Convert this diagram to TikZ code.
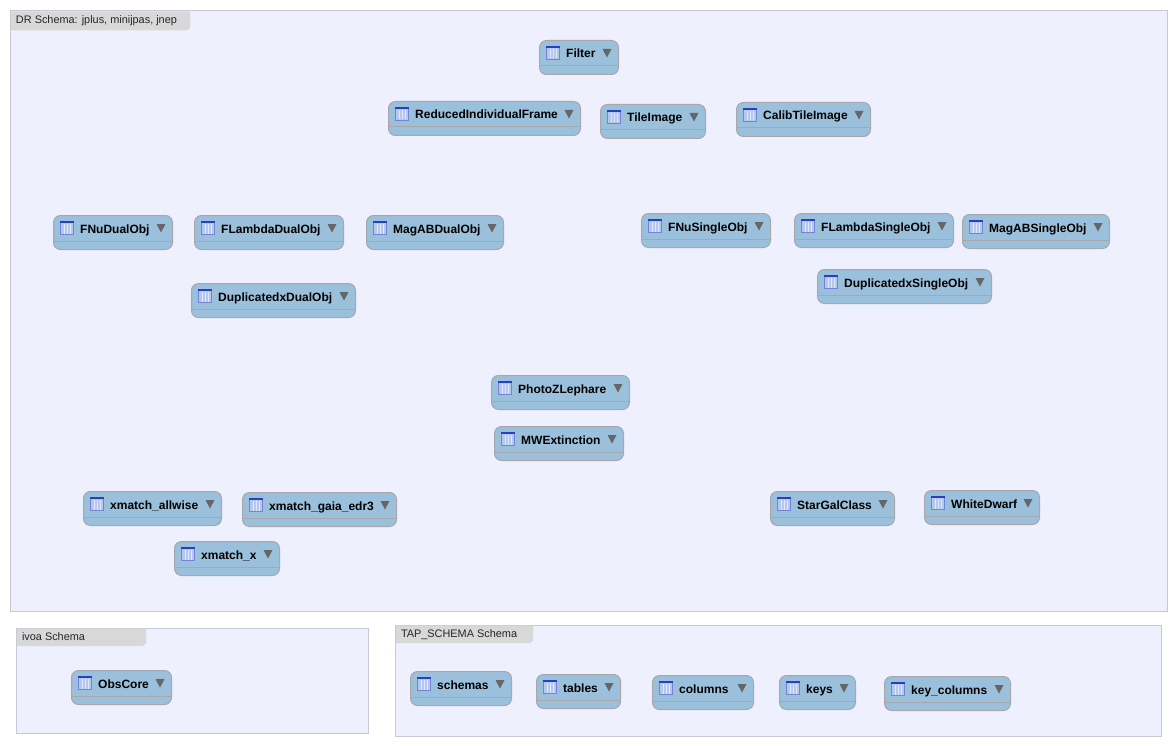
\documentclass[tikz,border=0pt]{standalone}
\usepackage{fontspec}
\setmainfont{Liberation Sans}
\usetikzlibrary{positioning, calc}

\definecolor{panelfill}{HTML}{EEF0FD}
\definecolor{paneldraw}{HTML}{C9C9D6}
\definecolor{tabfill}{HTML}{D8D8D8}
\definecolor{boxfill}{HTML}{9BC0DB}
\definecolor{boxdraw}{HTML}{A8A8AC}
\definecolor{iconblue}{HTML}{2A3FC0}
\definecolor{iconfill}{HTML}{B4C8EE}

\tikzset{
  schemapanel/.style = {draw=paneldraw, fill=panelfill, line width=1pt},
  schematab/.style = {fill=tabfill},
  schemalabel/.style = {anchor=base west, inner sep=0pt, font=\fontsize{10.9}{12}\selectfont, text=black!85},
  tablebox/.style = {draw=boxdraw, fill=boxfill, line width=1pt, rounded corners=7pt, anchor=north west, inner sep=0pt, minimum height=34pt},
  tablelabel/.style = {anchor=base west, inner sep=0pt, font=\fontsize{12}{13}\selectfont\bfseries},
  tablerule/.style = {draw=boxdraw, line width=1pt},
  tableicon/.style = {draw=iconblue!65!white, fill=iconfill, line width=1pt},
  tablemark/.style = {fill=black!60, draw=none},
}

\begin{document}
\begin{tikzpicture}[x=1pt, y=-1pt]
	\useasboundingbox (0,0) rectangle (1174,746);
	% schema panels with their tabs
	\foreach \pname/\ptext/\xa/\ya/\xb/\yb/\xt/\th in {
	    dr/{DR Schema: jplus, minijpas, jnep}/10.5/11/1167/611.5/190/19.5,
	    ivoa/{ivoa Schema}/16.5/628/368.5/733.5/146/18,
	    tap/{TAP\_SCHEMA Schema}/395.5/625/1161.5/736.5/533/18}{
	  \draw[schemapanel] (\xa,\ya) rectangle (\xb,\yb);
	  \fill[schematab] (\xa+.5,\ya+.5) -- (\xt,\ya+.5) -- (\xt,\ya+\th-3) -- (\xt-3,\ya+\th) -- (\xa+.5,\ya+\th) -- cycle;
	  \node[schemalabel] (\pname) at (\xa+5.3,\ya+12.3) {\ptext};
	}
	% tables: name/label/x/y/width
	\foreach \tname/\ttext/\xa/\ya/\tw in {
	    filter/Filter/539/40/79,
	    reduced/ReducedIndividualFrame/388/101/192,
	    tile/TileImage/600/104/105,
	    calib/CalibTileImage/736/102/134,
	    fnudual/FNuDualObj/53/215/119,
	    flamdual/FLambdaDualObj/194/215/149,
	    magdual/MagABDualObj/366/215/137,
	    fnusingle/FNuSingleObj/641/213/129,
	    flamsingle/FLambdaSingleObj/794/213/159,
	    magsingle/MagABSingleObj/962/214/147,
	    dupdual/DuplicatedxDualObj/191/283/164,
	    dupsingle/DuplicatedxSingleObj/817/269/174,
	    photoz/PhotoZLephare/491/375/138,
	    mwext/MWExtinction/494/426/129,
	    allwise/xmatch\_allwise/83/491/138,
	    gaia/xmatch\_gaia\_edr3/242/492/154,
	    xmatch/xmatch\_x/174/541/105,
	    stargal/StarGalClass/770/491/124,
	    whitedwarf/WhiteDwarf/924/490/115,
	    obscore/ObsCore/71/670/100,
	    schemas/schemas/410/671/101,
	    tables/tables/536/674/84,
	    columns/columns/652/675/101,
	    keys/keys/779/675/76,
	    keycols/key\_columns/884/676/126}{
	  \node[tablebox, minimum width=\tw pt] (\tname) at (\xa,\ya) {};
	  \draw[tablerule] (\xa,\ya+26) -- (\xa+\tw,\ya+26);
	  \draw[tableicon] (\xa+7.5,\ya+6.5) rectangle (\xa+20.5,\ya+19.5);
	  \draw[iconblue, line width=2pt] (\xa+7,\ya+7) -- (\xa+21,\ya+7);
	  \foreach \k in {11,14,17}
	    \draw[white!60!iconfill, line width=1pt] (\xa+\k,\ya+9) -- (\xa+\k,\ya+18.5);
	  \node[tablelabel] (\tname-text) at (\xa+27,\ya+18) {\ttext};
	  \fill[tablemark] (\xa+\tw-15.5,\ya+9) -- (\xa+\tw-6.5,\ya+9) -- (\xa+\tw-11,\ya+17.5) -- cycle;
	}
\end{tikzpicture}
\end{document}
